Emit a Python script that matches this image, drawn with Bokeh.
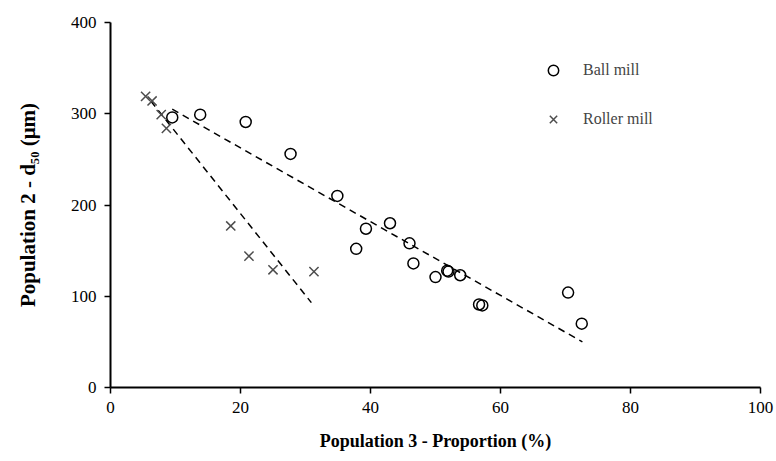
from bokeh.plotting import figure
from bokeh.models import Range1d, SingleIntervalTicker, Legend, LegendItem
from bokeh.embed import file_html
from bokeh.resources import INLINE

# Ball mill data
ball_x = [9.5, 13.8, 20.8, 27.7, 34.9, 37.8, 39.3, 43.0, 46.0, 46.6, 50.0, 51.8, 52.0, 53.8, 56.7, 57.2, 70.4, 72.5]
ball_y = [296, 299, 291, 256, 210, 152, 174, 180, 158, 136, 121, 128, 127, 123, 91, 90, 104, 70]

# Roller mill data
roller_x = [5.4, 6.4, 7.8, 8.6, 18.5, 21.3, 25.0, 31.3]
roller_y = [319, 314, 299, 284, 177, 144, 129, 127]

# Trend line end points
ball_trend_x = [9.5, 72.6]
ball_trend_y = [305, 50]
roller_trend_x = [6.2, 30.9]
roller_trend_y = [314, 93]

x_label = "Population 3 - Proportion (%)"
y_label = "Population 2 - d\u2085\u2080 (\u03bcm)"

FONT = "'Liberation Serif', 'Times New Roman', serif"

p = figure(width=776, height=461, output_backend="svg", toolbar_location=None,
           x_range=Range1d(0, 100), y_range=Range1d(0, 400),
           min_border_left=110, min_border_right=16, min_border_top=22, min_border_bottom=74)

p.xgrid.visible = False
p.ygrid.visible = False
p.outline_line_color = None

p.line(ball_trend_x, ball_trend_y, line_color="black", line_width=1.5, line_dash="7 5")
p.line(roller_trend_x, roller_trend_y, line_color="black", line_width=1.5, line_dash="7 5")

r_ball = p.scatter(ball_x, ball_y, marker="circle", size=11, fill_color=None,
                   line_color="black", line_width=1.5)
r_roll = p.scatter(roller_x, roller_y, marker="x", size=13,
                   line_color="#4d4d4d", line_width=1.5)

legend = Legend(items=[LegendItem(label="Ball mill", renderers=[r_ball]),
                       LegendItem(label="Roller mill", renderers=[r_roll])],
                location=(430, 255), border_line_color=None, background_fill_alpha=0,
                label_text_font=FONT, label_text_font_size="16px", spacing=23,
                glyph_width=26, glyph_height=26, label_standoff=17, padding=0, margin=0)
p.add_layout(legend)

for ax in (p.xaxis[0], p.yaxis[0]):
    ax.axis_line_width = 2
    ax.axis_line_color = "black"
    ax.major_tick_line_width = 1.5
    ax.major_tick_out = 6
    ax.major_tick_in = 0
    ax.minor_tick_out = 0
    ax.minor_tick_in = 0
    ax.major_label_text_font = FONT
    ax.major_label_text_font_size = "17px"
    ax.major_label_text_color = "black"
    ax.axis_label_text_font = FONT
    ax.axis_label_text_font_style = "bold"
    ax.axis_label_text_color = "black"

p.xaxis.axis_label_text_font_size = "18px"
p.yaxis.axis_label_text_font_size = "21px"

p.xaxis.ticker = SingleIntervalTicker(interval=20)
p.yaxis.ticker = SingleIntervalTicker(interval=100)
p.xaxis.axis_label = x_label
p.yaxis.axis_label = y_label
p.xaxis.major_label_standoff = 8
p.xaxis.axis_label_standoff = 15
p.yaxis.major_label_standoff = 8
p.yaxis.axis_label_standoff = 28

open("out.html", "w").write(file_html(p, INLINE))
